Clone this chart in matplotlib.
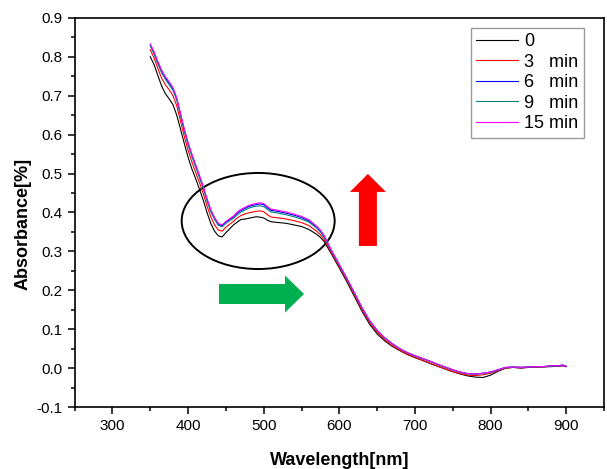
import matplotlib
matplotlib.use("Agg")
import matplotlib.pyplot as plt
from matplotlib.patches import Ellipse, FancyArrow
from matplotlib.ticker import MultipleLocator

plt.rcParams['font.family'] = ['Liberation Sans', 'DejaVu Sans']

wavelength = [350, 355, 360, 365, 370, 375, 380, 385, 390, 395, 400, 405, 410, 415, 420,
              425, 430, 435, 440, 445, 450, 455, 460, 465, 470, 475, 480, 485, 490, 495,
              500, 505, 510, 515, 520, 530, 540, 550, 560, 570, 575, 580, 590, 600, 610,
              620, 630, 640, 650, 660, 670, 680, 690, 700, 710, 720, 730, 740, 750, 760,
              770, 780, 790, 800, 810, 820, 830, 840, 850, 860, 870, 880, 890, 895, 900]

abs_0 = [0.800, 0.780, 0.752, 0.725, 0.705, 0.692, 0.677, 0.650, 0.614, 0.577, 0.542, 0.512, 0.487, 0.460, 0.432,
         0.400, 0.372, 0.352, 0.340, 0.337, 0.348, 0.358, 0.368, 0.375, 0.382, 0.383, 0.385, 0.387, 0.389, 0.388,
         0.386, 0.380, 0.376, 0.375, 0.374, 0.372, 0.368, 0.364, 0.356, 0.344, 0.336, 0.325, 0.292, 0.257, 0.222,
         0.184, 0.146, 0.113, 0.088, 0.070, 0.056, 0.045, 0.035, 0.027, 0.020, 0.012, 0.005, -0.002, -0.009, -0.015,
         -0.020, -0.023, -0.024, -0.018, -0.008, 0.000, 0.002, 0.000, 0.002, 0.003, 0.003, 0.004, 0.005, 0.006, 0.004]

abs_3 = [0.818, 0.797, 0.770, 0.745, 0.728, 0.715, 0.700, 0.674, 0.635, 0.595, 0.560, 0.530, 0.503, 0.477, 0.449,
         0.417, 0.389, 0.368, 0.355, 0.352, 0.362, 0.370, 0.377, 0.386, 0.392, 0.396, 0.399, 0.401, 0.403, 0.404,
         0.402, 0.394, 0.388, 0.387, 0.386, 0.383, 0.379, 0.374, 0.366, 0.352, 0.343, 0.330, 0.295, 0.260, 0.226,
         0.188, 0.150, 0.117, 0.092, 0.073, 0.058, 0.046, 0.036, 0.028, 0.020, 0.013, 0.005, -0.002, -0.009, -0.014,
         -0.018, -0.019, -0.017, -0.013, -0.006, 0.000, 0.002, 0.001, 0.002, 0.003, 0.004, 0.005, 0.006, 0.007, 0.004]

abs_6 = [0.830, 0.810, 0.785, 0.762, 0.745, 0.731, 0.717, 0.692, 0.652, 0.612, 0.577, 0.547, 0.520, 0.493, 0.465,
         0.433, 0.405, 0.385, 0.370, 0.366, 0.375, 0.382, 0.388, 0.398, 0.405, 0.410, 0.415, 0.418, 0.420, 0.422,
         0.420, 0.412, 0.405, 0.404, 0.402, 0.398, 0.393, 0.387, 0.378, 0.362, 0.352, 0.338, 0.300, 0.265, 0.230,
         0.193, 0.155, 0.122, 0.097, 0.078, 0.063, 0.050, 0.040, 0.032, 0.025, 0.018, 0.010, 0.003, -0.004, -0.010,
         -0.014, -0.015, -0.013, -0.010, -0.004, 0.002, 0.003, 0.002, 0.003, 0.004, 0.004, 0.006, 0.006, 0.008, 0.005]

abs_9 = [0.828, 0.807, 0.782, 0.759, 0.742, 0.728, 0.714, 0.689, 0.649, 0.609, 0.574, 0.544, 0.517, 0.490, 0.462,
         0.430, 0.402, 0.382, 0.367, 0.363, 0.372, 0.379, 0.385, 0.394, 0.401, 0.406, 0.411, 0.414, 0.416, 0.417,
         0.415, 0.408, 0.401, 0.400, 0.398, 0.394, 0.389, 0.383, 0.375, 0.360, 0.350, 0.336, 0.299, 0.264, 0.229,
         0.192, 0.154, 0.121, 0.096, 0.077, 0.062, 0.049, 0.039, 0.031, 0.024, 0.017, 0.009, 0.002, -0.005, -0.011,
         -0.015, -0.016, -0.014, -0.011, -0.005, 0.001, 0.003, 0.002, 0.003, 0.004, 0.004, 0.005, 0.006, 0.008, 0.005]

abs_15 = [0.833, 0.813, 0.788, 0.766, 0.749, 0.736, 0.721, 0.695, 0.655, 0.615, 0.580, 0.550, 0.523, 0.496, 0.468,
          0.436, 0.408, 0.387, 0.372, 0.368, 0.377, 0.384, 0.391, 0.401, 0.408, 0.413, 0.418, 0.421, 0.423, 0.425,
          0.423, 0.415, 0.408, 0.407, 0.405, 0.401, 0.396, 0.390, 0.381, 0.365, 0.355, 0.341, 0.302, 0.267, 0.231,
          0.194, 0.156, 0.123, 0.097, 0.078, 0.063, 0.050, 0.040, 0.032, 0.025, 0.018, 0.010, 0.003, -0.004, -0.010,
          -0.014, -0.015, -0.013, -0.010, -0.004, 0.002, 0.003, 0.002, 0.003, 0.004, 0.004, 0.006, 0.006, 0.008, 0.005]

series = [abs_0, abs_3, abs_6, abs_9, abs_15]
labels = ["0", "3   min", "6   min", "9   min", "15 min"]
colors = ["#000000", "#ff0000", "#0000ff", "#008080", "#ff00ff"]

fig = plt.figure(figsize=(6.07, 4.69), dpi=100)
ax = fig.add_axes([0.123, 0.132, 0.872, 0.830])

for ys, lab, col in zip(series, labels, colors):
    ax.plot(wavelength, ys, color=col, lw=0.8, label=lab)

ax.set_xlim(250, 950)
ax.set_ylim(-0.1, 0.9)
ax.set_xticks(range(300, 901, 100))
ax.set_xticks(range(250, 951, 50), minor=True)
ax.set_yticks([-0.1, 0.0, 0.1, 0.2, 0.3, 0.4, 0.5, 0.6, 0.7, 0.8, 0.9])
ax.set_yticklabels(["-0.1", "0.0", "0.1", "0.2", "0.3", "0.4", "0.5", "0.6", "0.7", "0.8", "0.9"])
ax.yaxis.set_minor_locator(MultipleLocator(0.05))
ax.tick_params(which='major', direction='out', length=5, width=1.1, labelsize=11, top=False, right=False)
ax.tick_params(which='minor', direction='out', length=3, width=1.1, top=False, right=False)
for s in ax.spines.values():
    s.set_linewidth(1.2)

ax.set_xlabel("Wavelength[nm]", fontsize=13, fontweight='bold')
ax.set_ylabel("Absorbance[%]", fontsize=13, fontweight='bold')
ax.xaxis.set_label_coords(0.5, -0.115)
ax.yaxis.set_label_coords(-0.082, 0.47)

leg = ax.legend(loc='upper right', bbox_to_anchor=(0.962, 0.975), borderaxespad=0,
                fontsize=13, handlelength=2.3, handletextpad=0.35, labelspacing=0.2,
                fancybox=False, frameon=True, borderpad=0.3)
leg.get_frame().set_edgecolor('#808080')
leg.get_frame().set_linewidth(1.0)

ax.add_patch(Ellipse((0.3467, 0.4781), 0.289, 0.2468, transform=ax.transAxes,
                     fill=False, edgecolor='black', lw=1.4))
ax.add_patch(FancyArrow(0.554, 0.414, 0.0, 0.185, width=0.034, head_width=0.068,
                        head_length=0.0463, length_includes_head=True,
                        transform=ax.transAxes, color='#ff0000', lw=0))
ax.add_patch(FancyArrow(0.2726, 0.2905, 0.1607, 0.0, width=0.0514, head_width=0.0951,
                        head_length=0.0359, length_includes_head=True,
                        transform=ax.transAxes, color='#00b050', lw=0))

fig.savefig("out.png", dpi=100)
